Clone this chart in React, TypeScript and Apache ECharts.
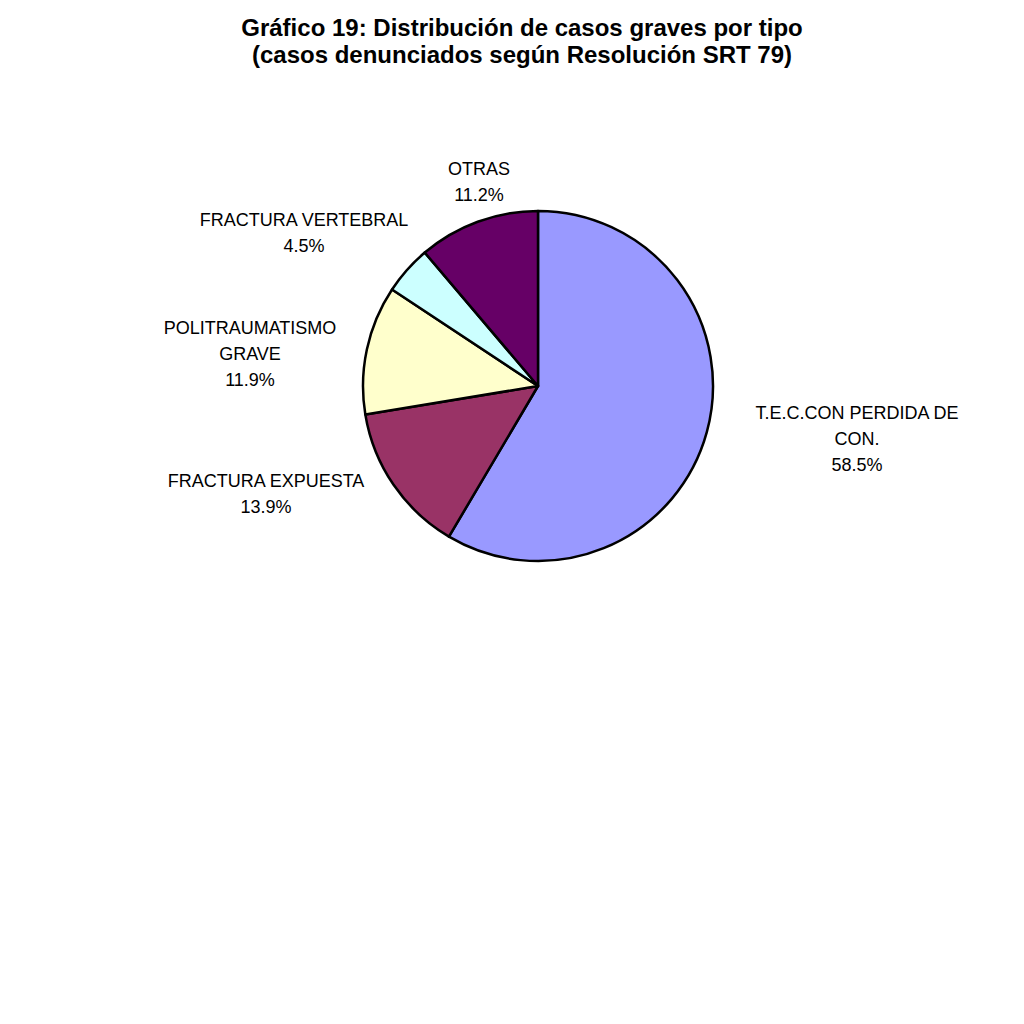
import React, { useEffect, useRef } from "react";
import * as echarts from "echarts";

const categories = [
  "T.E.C.CON PERDIDA DE\nCON.",
  "FRACTURA EXPUESTA",
  "POLITRAUMATISMO\nGRAVE",
  "FRACTURA VERTEBRAL",
  "OTRAS",
];
const percents = [58.5, 13.9, 11.9, 4.5, 11.2];
const colors = ["#9999FF", "#993366", "#FFFFCC", "#CCFFFF", "#660066"];

// label centres (Excel places them freely around the pie)
const labelSpots = [
  [857, 439],
  [266, 494],
  [250, 354],
  [304, 233],
  [479, 182],
];

export default function App() {
  const chartRef = useRef<HTMLDivElement>(null);

  useEffect(() => {
    document.body.style.margin = "0";
    if (!chartRef.current) return;
    const chart = echarts.init(chartRef.current, undefined, { renderer: "svg" });

    chart.setOption({
      animation: false,
      backgroundColor: "#ffffff",
      title: {
        text: "Gráfico 19: Distribución de casos graves por tipo\n(casos denunciados según Resolución SRT 79)",
        left: 517,
        top: 9,
        textAlign: "center",
        textStyle: {
          fontFamily: "Liberation Sans, Arial, sans-serif",
          fontSize: 24,
          fontWeight: "bold",
          color: "#000",
          lineHeight: 27,
        },
      },
      series: [
        {
          type: "pie",
          center: [538, 386],
          radius: 175,
          startAngle: 90,
          clockwise: true,
          data: categories.map((name, i) => ({
            name,
            value: percents[i],
            itemStyle: { color: colors[i] },
          })),
          itemStyle: { borderColor: "#000", borderWidth: 2.5 },
          emphasis: { disabled: true },
          label: {
            show: true,
            position: "outside",
            formatter: (p: any) => `${p.name}\n${p.value.toFixed(1)}%`,
            fontFamily: "Liberation Sans, Arial, sans-serif",
            fontSize: 18,
            lineHeight: 26,
            color: "#000",
            align: "center",
          },
          labelLine: { show: false },
          labelLayout: (params: any) => ({
            x: labelSpots[params.dataIndex][0],
            y: labelSpots[params.dataIndex][1],
            align: "center",
            verticalAlign: "middle",
          }),
        },
      ],
    });

    return () => chart.dispose();
  }, []);

  return <div ref={chartRef} style={{ width: 1024, height: 1024 }} />;
}
